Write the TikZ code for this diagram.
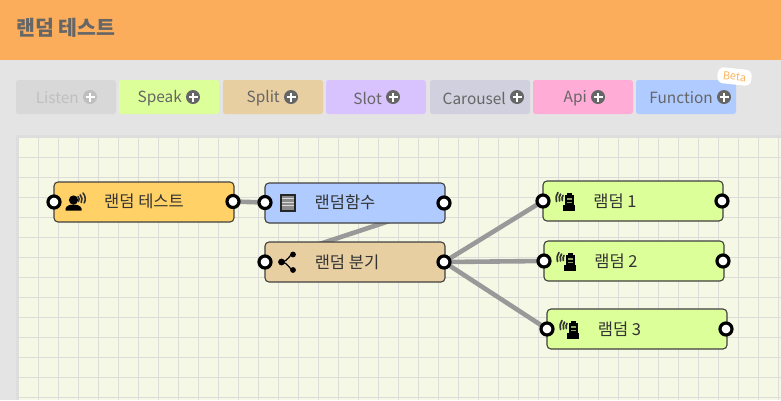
\documentclass[tikz,border=0pt]{standalone}
\usepackage{fontspec}
\setmainfont{Noto Sans CJK KR}
\definecolor{bodybg}{HTML}{E4E4E4}
\definecolor{headbg}{HTML}{FBAD5B}
\definecolor{canvasbg}{HTML}{F6F8E6}
\definecolor{gridc}{HTML}{DCDCD8}
\definecolor{framec}{HTML}{DDDDDD}
\definecolor{inkc}{HTML}{666666}
\definecolor{nodeink}{HTML}{333333}
\definecolor{wirec}{HTML}{999999}
\definecolor{cSpeak}{HTML}{DDFF99}
\definecolor{cSplit}{HTML}{E8CFA2}
\definecolor{cSlot}{HTML}{D9C3FF}
\definecolor{cCar}{HTML}{D0D0DE}
\definecolor{cApi}{HTML}{FFADD6}
\definecolor{cFunc}{HTML}{AFCBFF}
\definecolor{cTest}{HTML}{FFD166}
\definecolor{cListen}{HTML}{D8D8D8}
\definecolor{betac}{HTML}{FBB562}
\pgfdeclarelayer{back}
\pgfdeclarelayer{wires}
\pgfsetlayers{back,wires,main}
\tikzset{
  x=1pt,y=-1pt,
  btnbox/.style={draw=none,rounded corners=2.5pt,minimum width=100pt,minimum height=34pt,inner sep=0pt},
  btntext/.style={anchor=east,inner sep=0pt,font=\fontsize{15.4}{15.4}\selectfont,text=inkc},
  flow/.style={draw=black!75,line width=1.1pt,rounded corners=4pt,minimum width=180pt,minimum height=40pt,inner sep=0pt},
  flowtext/.style={inner sep=0pt,font=\fontsize{16.5}{16.5}\selectfont,text=nodeink},
  port/.style={circle,draw=black,fill=white,line width=3.2pt,minimum size=12pt,inner sep=0pt},
  wire/.style={draw=wirec,line width=4.6pt},
}
\newcommand{\plusmark}[3]{% x, y, disc colour
  \fill[#3] (#1,#2) circle (7);
  \fill[white] ({#1-4.5},{#2-1.4}) rectangle ({#1+4.5},{#2+1.4});
  \fill[white] ({#1-1.4},{#2-4.5}) rectangle ({#1+1.4},{#2+4.5});
}
\newcommand{\btn}[6]{% name, left, colour, label, icon x, text colour
  \node[btnbox,fill=#3] (#1) at ({#2+50},97) {};
  \node[btntext,text=#6] (#1t) at ({#5-11},98) {#4};
  \plusmark{#5}{97}{#6}
}
\newcommand{\listenicon}[2]{% x,y of the icon's upper left corner (wave top)
  \begin{scope}[shift={(#1,#2)}]
    \draw[black!80,line width=1.7pt,line cap=round] (1.5,10) .. controls (0.8,6) and (1.2,3) .. (3,1);
    \draw[black!80,line width=1.7pt,line cap=round] (4.6,9.5) .. controls (3.8,6.5) and (4.2,4) .. (5.6,2.5);
    \draw[black!80,line width=1.7pt,line cap=round] (7.4,9) .. controls (6.8,7) and (7,5.5) .. (8,4);
    \fill[black] (10,3.5) rectangle (18.5,13);
    \fill[black] (11.8,1.2) rectangle (16.7,4);
    \fill[cSpeak!65!black] (11.8,6) rectangle (16.7,8.2);
    \fill[cSpeak!65!black] (11.8,10) rectangle (16.7,11);
    \fill[black] (8,13) rectangle (20,19.5);
  \end{scope}
}
\begin{document}
\begin{tikzpicture}
\useasboundingbox (0,0) rectangle (781,400);
\begin{pgfonlayer}{back}
\fill[bodybg] (0,0) rectangle (781,400);
\fill[headbg] (0,0) rectangle (781,60);
\fill[framec] (16,135) rectangle (781,400);
\fill[canvasbg] (19,138) rectangle (781,400);
\foreach \gx in {38,58,...,778} \draw[gridc,line width=1.2pt] (\gx+0.5,138) -- (\gx+0.5,400);
\foreach \gy in {157,177,...,397} \draw[gridc,line width=1.2pt] (19,\gy+0.5) -- (781,\gy+0.5);
\end{pgfonlayer}
\node[anchor=west,inner sep=0pt,font=\fontsize{20.5}{20.5}\selectfont\bfseries,text=inkc] (title) at (16,27.5) {랜덤 테스트};

% buttons
\btn{listen}{16}{cListen}{Listen}{90}{black!25}
\btn{speak}{119}{cSpeak}{Speak}{193}{inkc}
\btn{split}{223}{cSplit}{Split}{291}{inkc}
\btn{slot}{326}{cSlot}{Slot}{393}{inkc}
\btn{carousel}{430}{cCar}{Carousel}{517}{inkc}
\btn{api}{533}{cApi}{Api}{598}{inkc}
\btn{function}{636}{cFunc}{Function}{724}{inkc}
\node[rotate=-6,fill=white,rounded corners=6pt,inner sep=0pt,minimum width=34pt,minimum height=16pt,font=\fontsize{11}{11}\selectfont,text=betac] (beta) at (734.5,76.5) {Beta};

% flow nodes
\node[flow,fill=cTest] (test) at (144,202) {};
\node[flow,fill=cFunc] (func) at (355,203) {};
\node[flow,fill=cSplit] (splitn) at (355,262) {};
\node[flow,fill=cSpeak] (r1) at (633,201) {};
\node[flow,fill=cSpeak] (r2) at (634,261) {};
\node[flow,fill=cSpeak] (r3) at (637,329) {};

% ports
\node[port] (ptestL) at (54,202) {};
\node[port] (ptestR) at (233,201.5) {};
\node[port] (pfuncL) at (265,202.5) {};
\node[port] (pfuncR) at (444,203) {};
\node[port] (psplitL) at (265,262) {};
\node[port] (psplitR) at (444,262) {};
\node[port] (pr1L) at (543,201) {};
\node[port] (pr1R) at (722,201) {};
\node[port] (pr2L) at (544,261) {};
\node[port] (pr2R) at (723,261) {};
\node[port] (pr3L) at (547,329) {};
\node[port] (pr3R) at (726,329) {};

% wires run under the boxes and the ports
\begin{pgfonlayer}{wires}
\draw[wire] (ptestR.center) -- (pfuncL.center);
\draw[wire] (pfuncR.center) -- (psplitL.center);
\draw[wire] (psplitR.center) -- (pr1L.center);
\draw[wire] (psplitR.center) -- (pr2L.center);
\draw[wire] (psplitR.center) -- (pr3L.center);
\end{pgfonlayer}

\node[flowtext] (testt) at (144,201) {랜덤 테스트};
\node[flowtext] (funct) at (345,202) {랜덤함수};
\node[flowtext] (splitt) at (347,262) {랜덤 분기};
\node[flowtext] (r1t) at (615,201) {램덤 1};
\node[flowtext] (r2t) at (616,261) {램덤 2};
\node[flowtext] (r3t) at (619.5,329) {램덤 3};

% speaker icon
\fill[black] (73.5,200) circle (4.6);
\fill[black] (65.5,210.5) -- (65.5,208.5) .. controls (66.5,205.5) and (70,204.6) .. (73.5,204.6) .. controls (77,204.6) and (80.5,205.5) .. (81.5,208.5) -- (81.5,210.5) -- cycle;
\draw[black!80,line width=1.6pt,line cap=round] (78,196.5) .. controls (79.5,198) and (79.5,200) .. (78.5,201.5);
\draw[black!80,line width=1.6pt,line cap=round] (80.2,194.8) .. controls (82.4,197) and (82.4,200.5) .. (81.2,202.5);
\draw[black!80,line width=1.6pt,line cap=round] (83,193) .. controls (85.7,196) and (85.7,200.5) .. (84.2,203);

% book icon
\fill[black!85] (279.5,193.5) rectangle (295.5,211.5);
\fill[black!45] (281.5,195.5) rectangle (293.5,209.5);
\foreach \ly in {198.5,202,205.5} \draw[white!85!black,line width=1pt] (281.5,\ly) -- (293.5,\ly);

% share icon
\draw[black,line width=1.2pt] (293,254) .. controls (289,255) and (288,261.5) .. (281.5,262) .. controls (288,262.5) and (289,269) .. (293,270);
\fill[black] (281.5,262) circle (3.4);
\fill[black] (293,254.5) circle (2.9);
\fill[black] (293,270) circle (2.9);

\listenicon{555}{191.5}
\listenicon{556}{251.5}
\listenicon{559}{319.5}
\end{tikzpicture}
\end{document}
